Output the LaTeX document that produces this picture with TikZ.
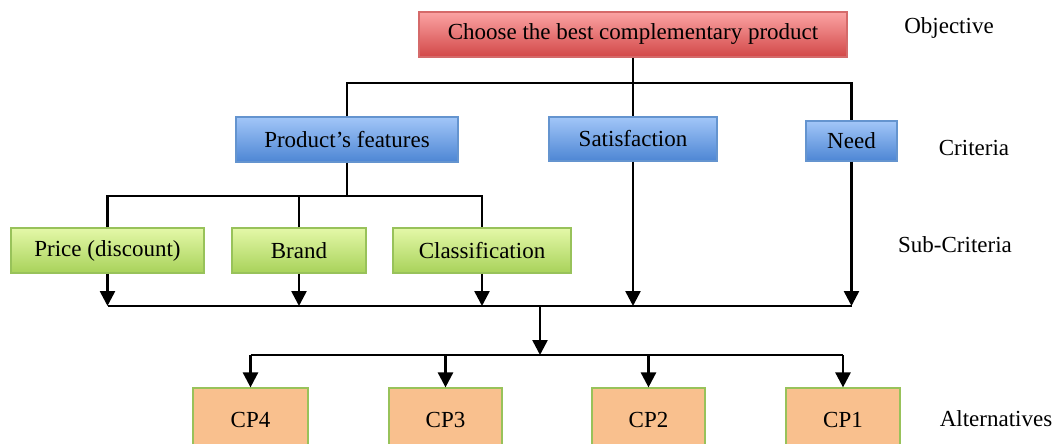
\documentclass[tikz,border=0pt]{standalone}
\usepackage{fontspec}
\setmainfont{Liberation Serif}
\usetikzlibrary{arrows.meta}
\definecolor{redtop}{HTML}{FBA3A3}
\definecolor{redbot}{HTML}{D24848}
\definecolor{redline}{HTML}{D56A6A}
\definecolor{bluetop}{HTML}{A2C6F8}
\definecolor{bluebot}{HTML}{4D86D4}
\definecolor{blueline}{HTML}{6494CF}
\definecolor{greentop}{HTML}{E4F8A8}
\definecolor{greenbot}{HTML}{A8D25A}
\definecolor{greenline}{HTML}{98C25A}
\definecolor{orangefill}{HTML}{F9C08E}
\tikzset{
  box/.style={draw,line width=1.2pt,inner sep=0pt,font=\fontsize{23}{27}\selectfont},
  goalbox/.style={box,draw=redline,top color=redtop,bottom color=redbot},
  critbox/.style={box,draw=blueline,top color=bluetop,bottom color=bluebot},
  subbox/.style={box,draw=greenline,top color=greentop,bottom color=greenbot},
  altbox/.style={box,draw=greenline,fill=orangefill},
  lvl/.style={font=\fontsize{23}{27}\selectfont},
  link/.style={line width=2.6pt},
  arr/.style={link,-{Triangle[width=15pt,length=15pt]}}
}
\begin{document}
\begin{tikzpicture}[x=1pt,y=-1pt]
\clip (0,0) rectangle (1055,444);

% objective
\node[goalbox,minimum width=428pt,minimum height=45pt] (goal) at (633,34.5) {Choose the best complementary product};

% criteria
\node[critbox,minimum width=222pt,minimum height=45pt] (feat) at (347,139.5) {Product’s features};
\node[critbox,minimum width=168pt,minimum height=44pt] (sat) at (633,139) {Satisfaction};
\node[critbox,minimum width=91pt,minimum height=40pt] (need) at (851.5,141) {Need};

% sub-criteria
\node[subbox,minimum width=193pt,minimum height=45pt] (price) at (107.5,250.5) {Price (discount)};
\node[subbox,minimum width=134pt,minimum height=45pt] (brand) at (299,250.5) {Brand};
\node[subbox,minimum width=178pt,minimum height=45pt] (class) at (482,250.5) {Classification};

% alternatives
\node[altbox,minimum width=115pt,minimum height=64pt] (cp4) at (250.5,420) {CP4};
\node[altbox,minimum width=113pt,minimum height=64pt] (cp3) at (445.5,420) {CP3};
\node[altbox,minimum width=113pt,minimum height=64pt] (cp2) at (648.5,420) {CP2};
\node[altbox,minimum width=114pt,minimum height=64pt] (cp1) at (843,420) {CP1};

% level names
\node[lvl] (objective) at (949,28) {Objective};
\node[lvl] (criteria) at (974,148) {Criteria};
\node[lvl] (subcriteria) at (955,245) {Sub-Criteria};
\node[lvl] (alternatives) at (996,419) {Alternatives};

% junctions
\coordinate (barA) at (347,83);
\coordinate (barB) at (851.5,83);
\coordinate (barC) at (107.5,196);
\coordinate (barD) at (482,196);
\coordinate (barE) at (107.5,306);
\coordinate (barF) at (851.5,306);
\coordinate (mid) at (540,306);
\coordinate (barG) at (250.5,355);
\coordinate (barH) at (843,355);

% objective -> criteria
\draw[link] (goal) -- (sat);
\draw[link] (feat.north) -- (barA) -- (barB) -- (need.north);

% criteria -> sub-criteria
\draw[link] (feat.south) -- (feat.south |- barC);
\draw[link] (price.north) -- (barC) -- (barD) -- (class.north);
\draw[link] (brand.north) -- (brand.north |- barC);

% down to the collecting bar
\draw[arr] (price) -- (price |- barE);
\draw[arr] (brand) -- (brand |- barE);
\draw[arr] (class) -- (class |- barE);
\draw[arr] (sat) -- (sat |- barE);
\draw[arr] (need) -- (need |- barE);
\draw[link] (barE) -- (barF);

% collecting bar -> alternatives
\draw[arr] (mid) -- (mid |- barG);
\draw[link] (barG) -- (barH);
\draw[arr] (barG) -- (cp4);
\draw[arr] (cp3 |- barG) -- (cp3);
\draw[arr] (cp2 |- barG) -- (cp2);
\draw[arr] (barH) -- (cp1);
\end{tikzpicture}
\end{document}
